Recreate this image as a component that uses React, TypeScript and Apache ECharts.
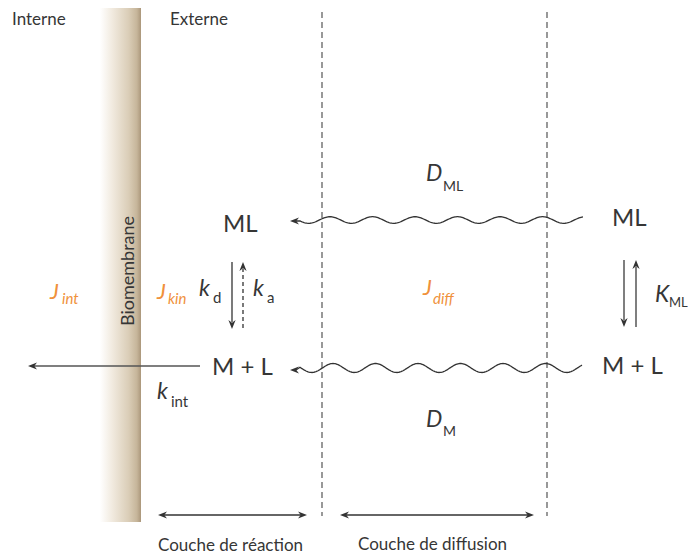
import React, { useEffect, useRef } from "react";
import * as echarts from "echarts";

// ---- Text content of the diagram ----
const regionLabels = ["Interne", "Externe"];
const membraneLabel = "Biomembrane";
const layerLabels = ["Couche de réaction", "Couche de diffusion"];
const speciesLabels = ["ML", "M + L"];
const fluxLabels = [
  { main: "J", sub: "int" },
  { main: "J", sub: "kin" },
  { main: "J", sub: "diff" },
];
const rateLabels = [
  { main: "k", sub: "d" },
  { main: "k", sub: "a" },
  { main: "k", sub: "int" },
];
const diffLabels = [
  { main: "D", sub: "ML" },
  { main: "D", sub: "M" },
];
const equilibriumLabel = { main: "K", sub: "ML" };

const FONT = "Lato, 'Open Sans', 'DejaVu Sans', sans-serif";
const TEXT = "#363636";
const ORANGE = "#f0913b";
const LINE = "#333333";
const GREY = "#555555";

function txt(text: string, x: number, y: number, size: number, opts: any = {}) {
  return {
    type: "text",
    x,
    y,
    rotation: opts.rotation || 0,
    z: 10,
    style: {
      text,
      fill: opts.fill || TEXT,
      fontSize: size,
      fontFamily: FONT,
      fontStyle: opts.italic ? "italic" : "normal",
      textAlign: opts.align || "left",
      textVerticalAlign: "middle",
    },
  };
}

function arrowHead(tx: number, ty: number, dx: number, dy: number, color: string, len = 9, half = 3.6) {
  const px = -dy, py = dx;
  const bx = tx - dx * len, by = ty - dy * len;
  const nx = tx - dx * len * 0.7, ny = ty - dy * len * 0.7;
  return {
    type: "polygon",
    z: 6,
    shape: {
      points: [
        [tx, ty],
        [bx + px * half, by + py * half],
        [nx, ny],
        [bx - px * half, by - py * half],
      ],
    },
    style: { fill: color, stroke: "none" },
  };
}

function line(x1: number, y1: number, x2: number, y2: number, color: string, w = 1.4, dash?: number[]) {
  return {
    type: "line",
    z: 5,
    shape: { x1, y1, x2, y2 },
    style: { stroke: color, lineWidth: w, lineDash: dash || null },
  };
}

function wave(xRight: number, xLeft: number, cy: number, amp: number, period: number, crestX: number, tipX: number, tipY: number) {
  const pts: number[][] = [];
  for (let x = xRight; x >= xLeft; x -= 1) {
    const y = cy - amp * Math.cos((2 * Math.PI * (x - crestX)) / period);
    pts.push([x, y]);
  }
  pts.push([tipX + 6, tipY]);
  return [
    {
      type: "polyline",
      z: 5,
      shape: { points: pts, smooth: 0 },
      style: { stroke: LINE, lineWidth: 1.3, fill: "none" },
    },
    arrowHead(tipX, tipY, -1, 0, LINE),
  ];
}

function subLabel(main: string, sub: string, x: number, y: number, subX: number, subY: number, mainSize: number, subSize: number, color: string, subItalic: boolean) {
  return [
    txt(main, x, y, mainSize, { italic: true, fill: color }),
    txt(sub, subX, subY, subSize, { italic: subItalic, fill: color }),
  ];
}

export default function App() {
  const ref = useRef<HTMLDivElement>(null);
  useEffect(() => {
    if (!ref.current) return;
    const chart = echarts.init(ref.current, null, { renderer: "svg" });

    const membraneGrad = new echarts.graphic.LinearGradient(0, 0, 1, 0, [
      { offset: 0, color: "#ffffff" },
      { offset: 0.3, color: "#f1eadf" },
      { offset: 0.7, color: "#dacdb7" },
      { offset: 0.9, color: "#c6b59a" },
      { offset: 1, color: "#ab977b" },
    ]);

    const elements: any[] = [
      // membrane
      {
        type: "rect",
        z: 1,
        shape: { x: 100, y: 8, width: 41, height: 514 },
        style: { fill: membraneGrad },
      },
      txt(membraneLabel, 127, 271, 18, { rotation: Math.PI / 2, align: "center" }),
      // region labels
      txt(regionLabels[0], 12, 18, 17),
      txt(regionLabels[1], 170, 18, 17),
      // dashed layer boundaries
      line(322, 12, 322, 516, GREY, 1.2, [6, 4]),
      line(547, 12, 547, 516, GREY, 1.2, [6, 4]),
      // species
      txt(speciesLabels[0], 223, 222, 24),
      txt(speciesLabels[1], 212, 365, 24),
      txt(speciesLabels[0], 612, 216, 24),
      txt(speciesLabels[1], 602, 364, 24),
      // waves (diffusion)
      ...wave(583, 300, 220, 3.3, 42.5, 330, 290, 221),
      ...wave(582, 300, 368, 4.5, 42.5, 333, 290, 370),
      // diffusion coefficients
      ...subLabel(diffLabels[0].main, diffLabels[0].sub, 426, 172, 443, 185, 23, 14, TEXT, false),
      ...subLabel(diffLabels[1].main, diffLabels[1].sub, 426, 418, 443, 430, 23, 14, TEXT, false),
      // fluxes
      ...subLabel(fluxLabels[0].main, fluxLabels[0].sub, 50, 290, 62, 298, 22, 15, ORANGE, true),
      ...subLabel(fluxLabels[1].main, fluxLabels[1].sub, 157, 290, 168, 298, 22, 15, ORANGE, true),
      ...subLabel(fluxLabels[2].main, fluxLabels[2].sub, 423, 286, 433, 298, 22, 15, ORANGE, true),
      // rate constants
      ...subLabel(rateLabels[0].main, rateLabels[0].sub, 199, 287, 213, 297, 23, 15, TEXT, false),
      ...subLabel(rateLabels[1].main, rateLabels[1].sub, 253, 287, 267, 297, 23, 15, TEXT, false),
      ...subLabel(rateLabels[2].main, rateLabels[2].sub, 157, 390, 171, 401, 23, 15, TEXT, false),
      ...subLabel(equilibriumLabel.main, equilibriumLabel.sub, 655, 293, 669, 302, 23, 13, TEXT, false),
      // kd / ka arrows
      line(232, 262, 232, 322, LINE, 1.3),
      arrowHead(232, 329, 0, 1, LINE),
      line(243, 328, 243, 269, LINE, 1.3, [4, 3]),
      arrowHead(243, 262, 0, -1, LINE),
      // K_ML arrows
      line(624, 260, 624, 320, GREY, 1.5),
      arrowHead(624, 327, 0, 1, "#333"),
      line(636, 327, 636, 267, GREY, 1.5),
      arrowHead(636, 260, 0, -1, "#333"),
      // kint arrow
      line(200, 366, 34, 366, GREY, 1.6),
      arrowHead(28, 366, -1, 0, "#333"),
      // bottom double arrows
      line(164, 515, 301, 515, LINE, 1.4),
      arrowHead(158, 515, -1, 0, LINE),
      arrowHead(307, 515, 1, 0, LINE),
      line(346, 515, 528, 515, LINE, 1.4),
      arrowHead(340, 515, -1, 0, LINE),
      arrowHead(534, 515, 1, 0, LINE),
      // layer labels
      txt(layerLabels[0], 158, 544, 17),
      txt(layerLabels[1], 358, 543, 17),
    ];

    chart.setOption({
      animation: false,
      backgroundColor: "#ffffff",
      graphic: { elements },
    });
    return () => chart.dispose();
  }, []);

  return (
    <div
      ref={ref}
      style={{ position: "fixed", left: 0, top: 0, width: 688, height: 556 }}
    />
  );
}
